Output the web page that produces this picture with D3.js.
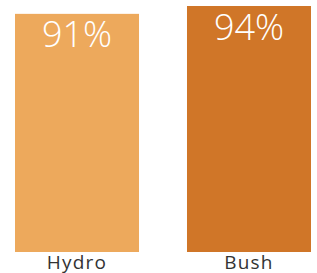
<!DOCTYPE html>
<html>
<head>
<meta charset="utf-8">
<script src="https://cdn.jsdelivr.net/npm/d3@7"></script>
<style>
  html, body { margin: 0; padding: 0; background: #fff; }
  svg { display: block; }
</style>
</head>
<body>
<div id="chart"></div>
<script>
const categories = ['Hydro', 'Bush'];
const values = [91, 94];
const barColors = ['#EDA95C', '#D07628'];

const width = 317;
const height = 273;

const svg = d3.select('#chart')
  .append('svg')
  .attr('width', width)
  .attr('height', height);

const x = d3.scaleBand()
  .domain(categories)
  .range([15, 311])
  .paddingInner(0.279)
  .paddingOuter(0);

const y = d3.scaleLinear()
  .domain([0, d3.max(values)])
  .range([252, 6]);

const data = categories.map((c, i) => ({ name: c, value: values[i], color: barColors[i] }));

// bars
svg.selectAll('rect.bar')
  .data(data)
  .enter()
  .append('rect')
  .attr('class', 'bar')
  .attr('x', d => x(d.name))
  .attr('y', d => y(d.value))
  .attr('width', x.bandwidth())
  .attr('height', d => y(0) - y(d.value))
  .attr('fill', d => d.color);

// value labels inside the top of each bar
svg.selectAll('text.value')
  .data(data)
  .enter()
  .append('text')
  .attr('class', 'value')
  .attr('x', d => x(d.name) + x.bandwidth() / 2)
  .attr('y', d => y(d.value) + 33.5)
  .attr('text-anchor', 'middle')
  .attr('fill', '#fff')
  .style('font-family', '"Open Sans", sans-serif')
  .style('font-weight', 300)
  .style('font-size', '36px')
  .text(d => d.value + '%');

// category axis
const xAxis = svg.append('g')
  .attr('transform', `translate(0, ${y(0)})`)
  .call(d3.axisBottom(x).tickSize(0).tickPadding(3));

xAxis.select('.domain').remove();
xAxis.selectAll('text')
  .attr('fill', '#333')
  .attr('dy', '0.71em')
  .style('font-family', '"Open Sans", sans-serif')
  .style('font-size', '19px')
  .style('letter-spacing', '1.2px');
</script>
</body>
</html>
